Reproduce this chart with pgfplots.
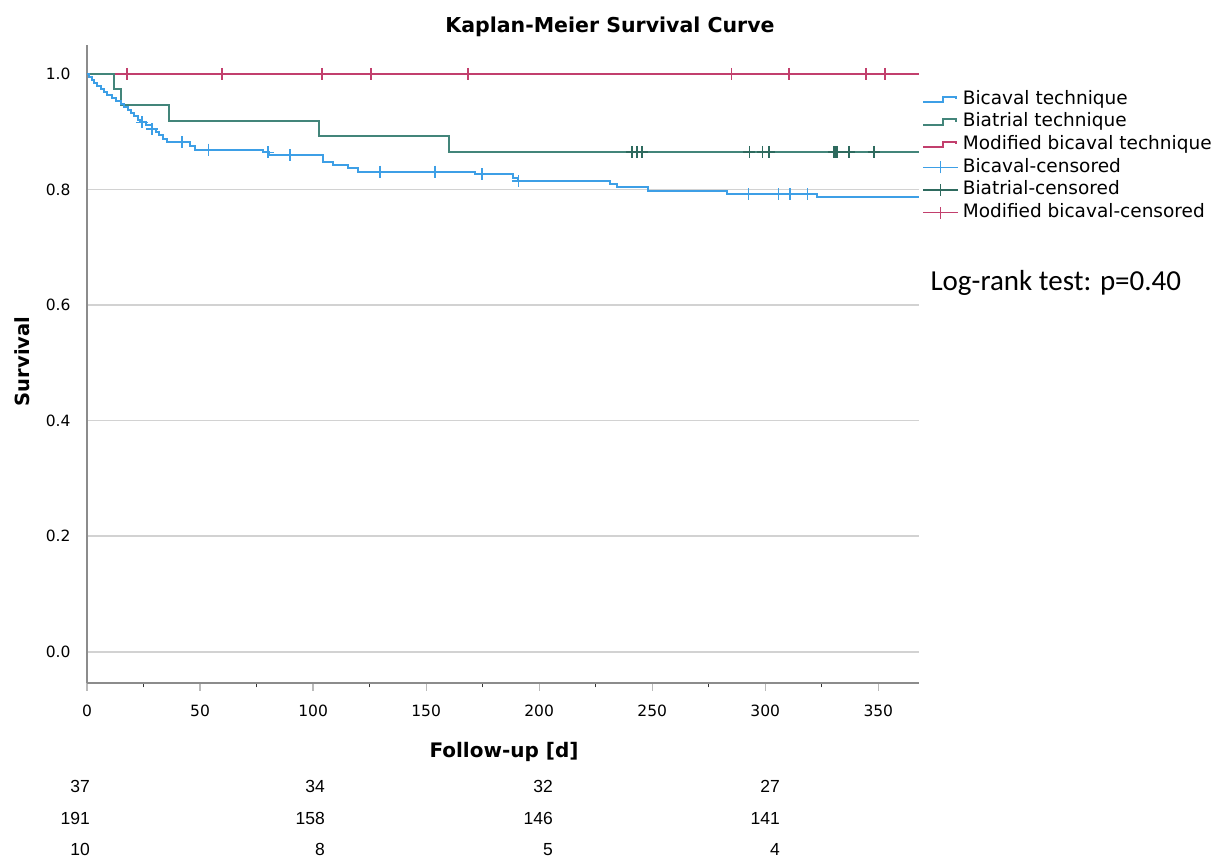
\documentclass[border=0pt]{standalone}
\usepackage{fontspec}
\setmainfont{DejaVu Sans}
\newfontfamily\calibri{Carlito}
\newfontfamily\arial{Liberation Sans}
\usepackage{pgfplots}
\pgfplotsset{compat=1.18}

\definecolor{bicaval}{HTML}{3D9FE6}
\definecolor{biatrial}{HTML}{43857A}
\definecolor{biatrialdk}{HTML}{2E6A5E}
\definecolor{modif}{HTML}{C23F6D}
\definecolor{gridgrey}{HTML}{D2D2D2}
\definecolor{axisgrey}{HTML}{8C8C8C}

\begin{document}
\begin{tikzpicture}
\path[use as bounding box] (0bp,0bp) rectangle (1223bp,859bp);
\begin{axis}[
    at={(87bp,176bp)}, anchor=south west,
    scale only axis, width=832bp, height=638bp,
    xmin=0, xmax=368, ymin=-0.054, ymax=1.05,
    axis x line*=bottom, axis y line*=left,
    axis line style={axisgrey, line width=1.4bp, -},
    xtick={0,50,...,350}, minor x tick num=1,
    tick align=outside,
    major tick length=8bp, minor tick length=4.5bp,
    major x tick style={axisgrey!60, line width=1.2bp},
    minor x tick style={black!80, line width=1.2bp},
    ytick={0,0.2,0.4,0.6,0.8,1},
    ytick style={draw=none},
    ymajorgrids,
    major grid style={gridgrey, line width=1.6bp},
    tick label style={font=\fontsize{15.5bp}{18bp}\selectfont, /pgf/number format/assume math mode=true},
    xticklabel style={yshift=-10bp},
    yticklabel style={xshift=-5bp, /pgf/number format/fixed, /pgf/number format/fixed zerofill, /pgf/number format/precision=1},
    legend style={at={(1.0036,0.928)}, anchor=north west, draw=none, fill=none,
        inner sep=0pt, outer sep=0pt, row sep=5.3bp, column sep=4bp,
        font=\fontsize{18.5bp}{21bp}\selectfont,
        nodes={inner sep=0pt, text height=13.3bp, text depth=4bp}},
    legend cell align=left,
]
% legend samples
\addlegendimage{bicaval, line width=2bp, legend image code/.code={\draw (0bp,-2.7bp) -- (20bp,-2.7bp) -- (20bp,2.7bp) -- (33bp,2.7bp) -- (33bp,0.5bp);}}
\addlegendimage{biatrial, line width=2bp, legend image code/.code={\draw (0bp,-2.7bp) -- (20bp,-2.7bp) -- (20bp,2.7bp) -- (33bp,2.7bp) -- (33bp,0.5bp);}}
\addlegendimage{modif, line width=2bp, legend image code/.code={\draw (0bp,-2.7bp) -- (20bp,-2.7bp) -- (20bp,2.7bp) -- (33bp,2.7bp) -- (33bp,0.5bp);}}
\addlegendimage{bicaval, line width=1.7bp, legend image code/.code={\draw (0bp,0bp) -- (35bp,0bp); \draw (17.5bp,-6bp) -- (17.5bp,6bp);}}
\addlegendimage{biatrialdk, line width=1.7bp, legend image code/.code={\draw (0bp,0bp) -- (35bp,0bp); \draw (17.5bp,-6bp) -- (17.5bp,6bp);}}
\addlegendimage{modif, line width=1.7bp, legend image code/.code={\draw (0bp,0bp) -- (35bp,0bp); \draw (17.5bp,-6bp) -- (17.5bp,6bp);}}

% modified bicaval technique
\addplot[const plot, modif, line width=2bp, forget plot] coordinates {(0,1) (368,1)};
% biatrial technique
\addplot[const plot, biatrial, line width=2bp, forget plot] coordinates {
(0,1) (12,0.973) (15.2,0.946) (36.1,0.919) (102.8,0.892) (160,0.865) (368,0.865)};
% bicaval technique
\addplot[const plot, bicaval, line width=2bp, forget plot] coordinates {
(0,1.000) (1,0.995) (2,0.990) (3,0.984) (4.5,0.979) (6,0.974) (7.5,0.969)
(9,0.963) (11,0.958) (13,0.953) (15,0.948) (16.5,0.942) (18,0.937)
(19.5,0.932) (21,0.927) (22.5,0.921) (23.5,0.916) (26,0.911) (28.6,0.905)
(30.5,0.899) (32,0.894) (33.5,0.888) (35.3,0.882) (45.6,0.875) (47.8,0.869)
(78,0.864) (80.5,0.859) (104.6,0.848) (109,0.843) (115.6,0.837) (120,0.831)
(171.7,0.826) (188.6,0.820) (190.5,0.815) (231.4,0.810) (234.4,0.804)
(248,0.798) (283,0.792) (322.9,0.787) (368,0.787)};

% censored marks
\addplot[only marks, mark=+, mark size=6bp, bicaval, mark options={line width=1.7bp}, forget plot] coordinates {
(24.3,0.916) (28.8,0.905) (41.9,0.882) (53.8,0.869) (80.2,0.864) (89.8,0.859)
(129.6,0.831) (154,0.831) (174.6,0.826) (190.8,0.815)
(292.6,0.792) (305.9,0.792) (310.8,0.792) (318.7,0.792)};
\addplot[only marks, mark=+, mark size=6bp, biatrialdk, mark options={line width=1.7bp}, forget plot] coordinates {
(241,0.865) (243.2,0.865) (245.4,0.865) (293,0.865) (298.8,0.865) (301.5,0.865)
(330.5,0.865) (331.3,0.865) (332,0.865) (336.9,0.865) (348,0.865)};
\addplot[only marks, mark=+, mark size=6bp, modif, mark options={line width=1.7bp}, forget plot] coordinates {
(17.7,1) (59.7,1) (104,1) (125.7,1) (168.6,1) (285,1) (310.6,1) (344.7,1) (353,1)};

\legend{Bicaval technique, Biatrial technique, Modified bicaval technique,
Bicaval-censored, Biatrial-censored, Modified bicaval-censored}
\end{axis}

% titles and labels
\node[font=\bfseries\fontsize{20.5bp}{24bp}\selectfont] at (610bp,832bp) {Kaplan-Meier Survival Curve};
\node[font=\bfseries\fontsize{20bp}{24bp}\selectfont] at (504bp,107bp) {Follow-up [d]};
\node[font=\bfseries\fontsize{19.5bp}{24bp}\selectfont, rotate=90] at (22bp,497.5bp) {Survival};
\node[font=\calibri\fontsize{29bp}{34bp}\selectfont, anchor=west] at (927bp,576bp) {Log-rank test: p=0.40};

% numbers at risk
\begin{scope}[every node/.style={font=\arial\fontsize{17.5bp}{20bp}\selectfont, anchor=base east, inner sep=0pt}]
\node at (90bp,66.3bp) {37};  \node at (325bp,66.3bp) {34};  \node at (553bp,66.3bp) {32};  \node at (780bp,66.3bp) {27};
\node at (90bp,34.7bp) {191}; \node at (325bp,34.7bp) {158}; \node at (553bp,34.7bp) {146}; \node at (780bp,34.7bp) {141};
\node at (90bp,3.3bp) {10};   \node at (325bp,3.3bp) {8};    \node at (553bp,3.3bp) {5};    \node at (780bp,3.3bp) {4};
\end{scope}
\end{tikzpicture}
\end{document}
